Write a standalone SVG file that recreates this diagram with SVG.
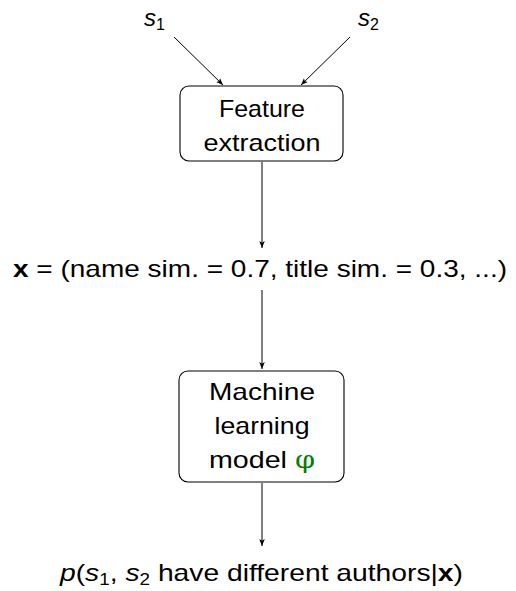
<svg xmlns="http://www.w3.org/2000/svg" width="516" height="591" viewBox="0 0 516 591">
<style>
text{font-family:"Liberation Sans",Arial,sans-serif;font-size:24px;fill:#000}
.c{text-anchor:middle}
.i{font-style:italic}
.sub{font-size:16px}
.box{fill:#fff;stroke:#000;stroke-width:1.1}
.edge{stroke:#000;stroke-width:1;fill:none;marker-end:url(#ah)}
</style>
<defs>
<marker id="ah" viewBox="0 0 10 10" refX="10" refY="5" markerWidth="7" markerHeight="7" orient="auto" markerUnits="userSpaceOnUse">
<path d="M0,1 L10,5 L0,9 L2.5,5 Z" fill="#000"/>
</marker>
</defs>
<rect width="516" height="591" fill="#fff"/>
<g id="edges">
<line class="edge" x1="174" y1="37" x2="223" y2="85"/>
<line class="edge" x1="350" y1="37" x2="301" y2="85"/>
<line class="edge" x1="262" y1="162" x2="262" y2="248"/>
<line class="edge" x1="262" y1="290" x2="262" y2="369"/>
<line class="edge" x1="262" y1="483" x2="262" y2="546"/>
</g>
<g id="s1"><text x="144" y="26" class="i">s<tspan class="sub" dy="4" font-style="normal">1</tspan></text></g>
<g id="s2"><text x="358" y="26" class="i">s<tspan class="sub" dy="4" font-style="normal">2</tspan></text></g>
<g id="feature">
<rect class="box" x="180" y="86" width="163" height="75" rx="9"/>
<text class="c" x="262" y="117" textLength="86" lengthAdjust="spacingAndGlyphs">Feature</text>
<text class="c" x="262" y="151" textLength="117" lengthAdjust="spacingAndGlyphs">extraction</text>
</g>
<g id="x">
<text x="13" y="277" textLength="494" lengthAdjust="spacingAndGlyphs"><tspan font-weight="bold">x</tspan> = (name sim. = 0.7, title sim. = 0.3, ...)</text>
</g>
<g id="model">
<rect class="box" x="179" y="371" width="165" height="111" rx="9"/>
<text class="c" x="262" y="400" textLength="106" lengthAdjust="spacingAndGlyphs">Machine</text>
<text class="c" x="262" y="434" textLength="95" lengthAdjust="spacingAndGlyphs">learning</text>
<text class="c" x="262" y="468" textLength="106" lengthAdjust="spacingAndGlyphs">model <tspan fill="#008000" font-family="'DejaVu Serif',serif">φ</tspan></text>
</g>
<g id="output">
<text x="60" y="581" textLength="403" lengthAdjust="spacingAndGlyphs"><tspan class="i">p</tspan>(<tspan class="i">s</tspan><tspan class="sub" dy="4">1</tspan><tspan dy="-4">, </tspan><tspan class="i">s</tspan><tspan class="sub" dy="4">2</tspan><tspan dy="-4"> have different authors|</tspan><tspan font-weight="bold">x</tspan>)</text>
</g>
</svg>
